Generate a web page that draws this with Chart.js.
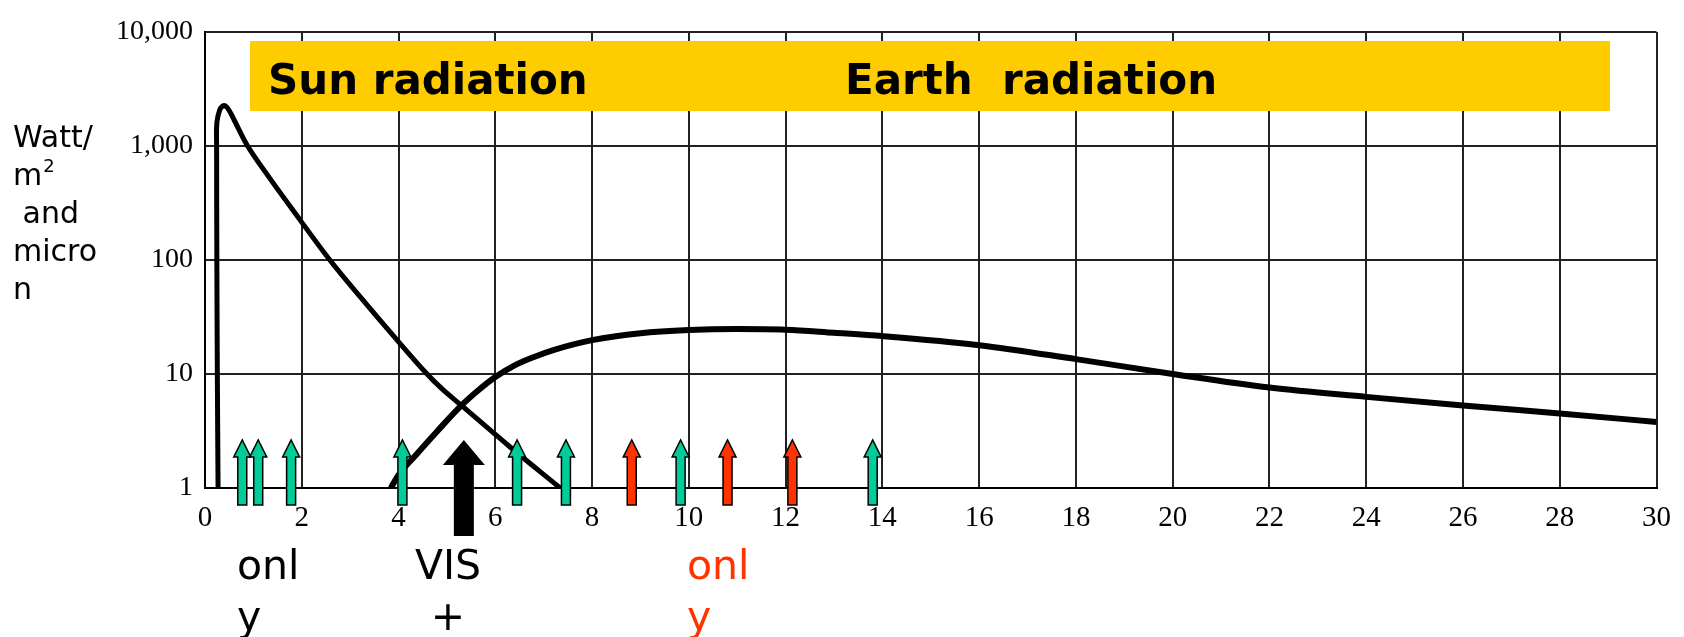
<!DOCTYPE html>
<html>
<head>
<meta charset="utf-8">
<title>Sun and Earth radiation</title>
<script src="https://cdn.jsdelivr.net/npm/chart.js@4.4.1/dist/chart.umd.min.js"></script>
<style>
    html, body { margin: 0; padding: 0; background: #fff; }
    #wrap { position: relative; width: 1684px; height: 637px; }
</style>
</head>
<body>
<div id="wrap"><canvas id="radChart"></canvas></div>
<script>
// wavelength (micron) and intensity (Watt/m2 and micron)
const sunX = [0.27, 0.255, 0.245, 0.24, 0.245, 0.3, 0.36, 0.42, 0.5, 0.6, 0.88, 1.3, 1.8, 2.58, 3.2, 3.9, 4.57, 4.9, 5.3, 6.3, 7.34];
const sunY = [1, 10, 100, 1000, 1600, 2050, 2230, 2250, 2050, 1700, 1000, 550, 280, 100, 48, 21.5, 10.2, 7.4, 5.3, 2.3, 1];

const earthX = [3.84, 4.0, 4.36, 4.8, 5.3, 5.65, 6.0, 6.4, 6.8, 7.2, 8, 9, 10, 11, 12, 13, 14, 16, 18, 20, 22, 24, 26, 28, 30];
const earthY = [1, 1.3, 1.95, 3.15, 5.3, 7.2, 9.4, 11.9, 14.1, 16.2, 19.8, 22.8, 24.3, 24.8, 24.5, 23, 21.5, 17.9, 13.5, 10, 7.6, 6.3, 5.3, 4.5, 3.8];

const yTickValues = [1, 10, 100, 1000, 10000];

// arrows along the wavelength axis
const tealArrows = [0.77, 1.10, 1.78, 4.08, 6.45, 7.46, 9.83, 13.8];
const redArrows = [8.82, 10.8, 12.14];
const visArrows = [5.35];

const yTitleLines = ['Watt/', 'm', ' and', 'micro', 'n'];

function toPoints(xs, ys) {
    return xs.map((x, i) => ({ x: x, y: ys[i] }));
}

function drawArrow(ctx, x, tail, tip, headBase, shaftW, headW, fill, stroke) {
    ctx.beginPath();
    ctx.moveTo(x - shaftW / 2, tail);
    ctx.lineTo(x - shaftW / 2, headBase);
    ctx.lineTo(x - headW / 2, headBase);
    ctx.lineTo(x, tip);
    ctx.lineTo(x + headW / 2, headBase);
    ctx.lineTo(x + shaftW / 2, headBase);
    ctx.lineTo(x + shaftW / 2, tail);
    ctx.closePath();
    ctx.fillStyle = fill;
    ctx.fill();
    if (stroke) {
        ctx.lineWidth = 1.5;
        ctx.strokeStyle = stroke;
        ctx.stroke();
    }
}

// yellow band with the two headings, sits over the grid
const bannerPlugin = {
    id: 'banner',
    beforeDatasetsDraw(chart) {
        const ctx = chart.ctx;
        ctx.save();
        ctx.fillStyle = '#ffcc00';
        ctx.fillRect(250, 41, 1360, 70);
        ctx.fillStyle = '#000';
        ctx.font = 'bold 42px "DejaVu Sans"';
        ctx.textBaseline = 'alphabetic';
        ctx.fillText('Sun radiation', 268, 94);
        ctx.fillText('Earth  radiation', 845, 94);
        ctx.restore();
    }
};

const arrowPlugin = {
    id: 'arrows',
    afterDraw(chart) {
        const ctx = chart.ctx;
        const xs = chart.scales.x;
        const bottom = chart.chartArea.bottom;
        ctx.save();
        tealArrows.forEach(v => {
            drawArrow(ctx, xs.getPixelForValue(v), bottom + 17, bottom - 48, bottom - 31, 9, 17, '#00cc99', '#000');
        });
        redArrows.forEach(v => {
            drawArrow(ctx, xs.getPixelForValue(v), bottom + 17, bottom - 48, bottom - 31, 9, 17, '#ff3300', '#000');
        });
        visArrows.forEach(v => {
            drawArrow(ctx, xs.getPixelForValue(v), bottom + 48, bottom - 48, bottom - 23, 20, 42, '#000', null);
        });
        ctx.restore();
    }
};

const textPlugin = {
    id: 'labels',
    afterDraw(chart) {
        const ctx = chart.ctx;
        ctx.save();
        ctx.textBaseline = 'alphabetic';
        ctx.fillStyle = '#000';
        ctx.font = '30px "DejaVu Sans"';
        yTitleLines.forEach((line, i) => {
            ctx.fillText(line, 13, 147 + i * 38);
        });
        // small raised 2 after the m
        const mW = ctx.measureText('m').width;
        ctx.font = '18px "DejaVu Sans"';
        ctx.fillText('2', 13 + mW + 1, 172);

        ctx.font = '41px "DejaVu Sans"';
        ctx.textAlign = 'left';
        ctx.fillText('onl', 237, 579);
        ctx.fillText('y', 237, 630);
        ctx.textAlign = 'center';
        ctx.fillText('VIS', 448, 579);
        ctx.fillText('+', 448, 630);
        ctx.textAlign = 'left';
        ctx.fillStyle = '#ff3300';
        ctx.fillText('onl', 687, 579);
        ctx.fillText('y', 687, 630);
        ctx.restore();
    }
};

document.addEventListener('DOMContentLoaded', function () {
    const ctx = document.getElementById('radChart').getContext('2d');

    new Chart(ctx, {
        type: 'line',
        data: {
            datasets: [{
                label: 'Sun radiation',
                data: toPoints(sunX, sunY),
                borderColor: '#000',
                borderWidth: 5,
                pointRadius: 0,
                tension: 0.35,
                fill: false
            }, {
                label: 'Earth radiation',
                data: toPoints(earthX, earthY),
                borderColor: '#000',
                borderWidth: 6,
                pointRadius: 0,
                cubicInterpolationMode: 'monotone',
                fill: false
            }]
        },
        options: {
            responsive: true,
            maintainAspectRatio: false,
            animation: false,
            layout: {
                padding: { top: 32, right: 15, bottom: 109, left: 0 }
            },
            scales: {
                x: {
                    type: 'linear',
                    min: 0,
                    max: 30,
                    afterFit: scale => { scale.height = 40; },
                    ticks: {
                        stepSize: 2,
                        color: '#000',
                        padding: 13,
                        maxRotation: 0,
                        font: { family: '"Liberation Serif"', size: 29 }
                    },
                    grid: { color: '#222', lineWidth: 2, drawTicks: false },
                    border: { color: '#000', width: 2 }
                },
                y: {
                    type: 'logarithmic',
                    min: 1,
                    max: 10000,
                    afterFit: scale => { scale.width = 205; },
                    afterBuildTicks: scale => {
                        scale.ticks = yTickValues.map(v => ({ value: v }));
                    },
                    ticks: {
                        color: '#000',
                        padding: 12,
                        font: { family: '"Liberation Serif"', size: 28 },
                        callback: value => Number(value).toLocaleString('en-US')
                    },
                    grid: { color: '#222', lineWidth: 2, drawTicks: false },
                    border: { color: '#000', width: 2 }
                }
            },
            plugins: {
                legend: { display: false },
                tooltip: { enabled: false },
                title: { display: false }
            }
        },
        plugins: [bannerPlugin, arrowPlugin, textPlugin]
    });
});
</script>
</body>
</html>
